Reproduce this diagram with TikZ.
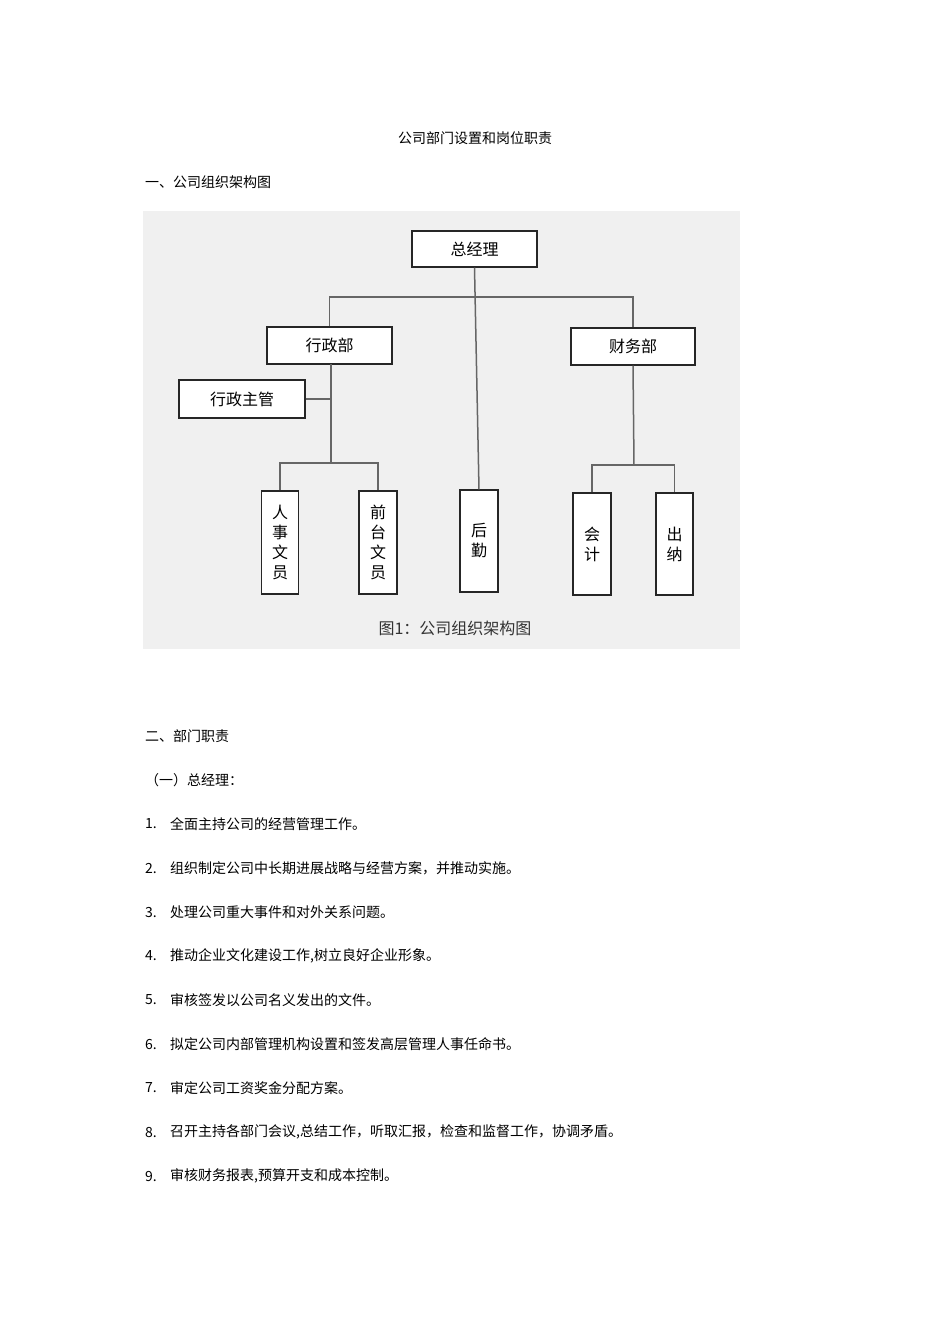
\documentclass[tikz,border=0pt]{standalone}
\usepackage{fontspec}
\newfontfamily\cjk{Noto Sans CJK SC}
\begin{document}
\begin{tikzpicture}[x=1pt,y=-1pt,
  box/.style={draw=black!85,line width=1.3pt,fill=white,inner sep=0pt,font=\cjk\fontsize{16}{18}\selectfont},
  vbox/.style={box,align=center,font=\cjk\fontsize{16}{20}\selectfont},
  ln/.style={draw=black!60,line width=1.5pt},
  txt/.style={anchor=west,inner sep=0pt,font=\cjk\fontsize{14}{16}\selectfont}]
\useasboundingbox[fill=white] (0,0) rectangle (950,1344);
\fill[black!6] (143,211) rectangle (740,649);
\node[inner sep=0pt,font=\cjk\fontsize{14}{16}\selectfont] (title) at (475,138) {公司部门设置和岗位职责};
\node[txt] (h1) at (145,182) {一、公司组织架构图};
\node[box,minimum width=125pt,minimum height=36pt] (gm) at (474.5,249) {总经理};
\node[box,minimum width=125pt,minimum height=37pt] (xz) at (329.5,345.5) {行政部};
\node[box,minimum width=124pt,minimum height=37pt] (cw) at (633,346.5) {财务部};
\node[box,minimum width=126pt,minimum height=38pt] (zg) at (242,399) {行政主管};
\node[vbox,minimum width=37pt,minimum height=103pt] (rs) at (280,542.5) {人\\事\\文\\员};
\node[vbox,minimum width=38pt,minimum height=103pt] (qt) at (378,542.5) {前\\台\\文\\员};
\node[vbox,minimum width=38pt,minimum height=102pt] (hq) at (479,541) {后\\勤};
\node[vbox,minimum width=38pt,minimum height=102pt] (kj) at (592,544) {会\\计};
\node[vbox,minimum width=37pt,minimum height=102pt] (cn) at (674.5,544) {出\\纳};
\node[inner sep=0pt,font=\cjk\fontsize{16}{18}\selectfont,text=black!80] (cap) at (455,628) {图1：公司组织架构图};
\coordinate (j1) at (331,399);
\coordinate (j2) at (331,463);
\coordinate (j3) at (634,465);
\draw[ln] (gm.south) -- (hq.north);
\draw[ln] (xz.north) |- (475,297) -| (cw.north);
\draw[ln] (331,364) -- (j2);
\draw[ln] (zg.east) -- (j1);
\draw[ln] (rs.north) |- (j2) -| (qt.north);
\draw[ln] (cw.south) -- (j3);
\draw[ln] (kj.north) |- (j3) -| (cn.north);
\node[txt] (h2) at (145,736) {二、部门职责};
\node[txt] (h3) at (145,780) {（一）总经理：};
\foreach \i/\t in {1/全面主持公司的经营管理工作。,
2/组织制定公司中长期进展战略与经营方案，并推动实施。,
3/处理公司重大事件和对外关系问题。,
4/推动企业文化建设工作{,}树立良好企业形象。,
5/审核签发以公司名义发出的文件。,
6/拟定公司内部管理机构设置和签发高层管理人事任命书。,
7/审定公司工资奖金分配方案。,
8/召开主持各部门会议{,}总结工作，听取汇报，检查和监督工作，协调矛盾。,
9/审核财务报表{,}预算开支和成本控制。}{
  \node[txt] (n\i) at (145,{780+44*\i}) {\i.};
  \node[txt] (t\i) at (170,{780+44*\i}) {\t};
}
\end{tikzpicture}
\end{document}
